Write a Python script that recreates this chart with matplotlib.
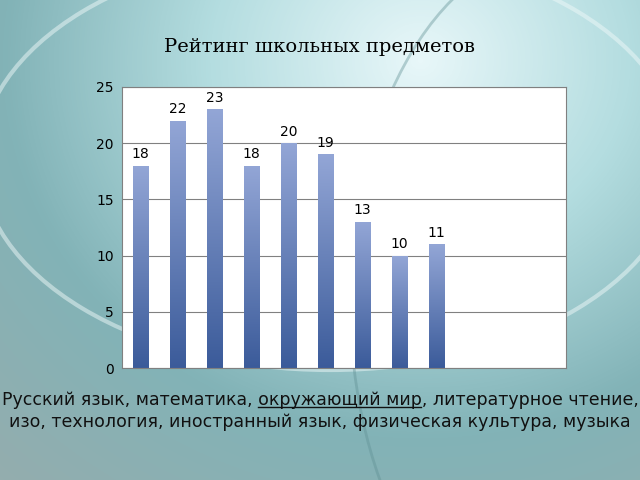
import numpy as np
import matplotlib.pyplot as plt
from matplotlib.colors import LinearSegmentedColormap
from matplotlib.patches import Ellipse

values = [18, 22, 23, 18, 20, 19, 13, 10, 11]
n_slots = 12
title = 'Рейтинг школьных предметов'
line1 = ['Русский язык, математика, ', 'окружающий мир', ', литературное чтение,']
line2 = 'изо, технология, иностранный язык, физическая культура, музыка'

fig = plt.figure(figsize=(6.4, 4.8), dpi=100)

# фон
bg = fig.add_axes([0, 0, 1, 1])
yy, xx = np.mgrid[0:480, 0:640]
d = np.sqrt(((xx - 420) / 420.0) ** 2 + ((yy - 60) / 380.0) ** 2)
cmap_bg = LinearSegmentedColormap.from_list('bg', ['#e8f7f9', '#b4dde0', '#82b3b7', '#94adae'])
bg.imshow(d, cmap=cmap_bg, aspect='auto', extent=[0, 640, 480, 0])
bg.add_patch(Ellipse((330, 160), 700, 420, fill=False, ec='#eef8f8', lw=3, alpha=0.5))
bg.add_patch(Ellipse((560, 300), 420, 700, fill=False, ec='#5f8f93', lw=2, alpha=0.4))
bg.set_xlim(0, 640); bg.set_ylim(480, 0)
bg.axis('off')

ax = fig.add_axes([122 / 640, 1 - 368 / 480, 444 / 640, 281 / 480])
ax.set_facecolor('white')
x = np.arange(len(values)) + 0.5
bars = ax.bar(x, values, width=0.42, color='none')
grad = np.linspace(0, 1, 256).reshape(-1, 1)
cmap_bar = LinearSegmentedColormap.from_list('bar', ['#3b5b9a', '#93a6d6'])
for b, v in zip(bars, values):
    im = ax.imshow(grad, cmap=cmap_bar, origin='lower', aspect='auto',
                   extent=[b.get_x(), b.get_x() + b.get_width(), 0, v], zorder=2)
    im.set_clip_path(b)
    ax.text(b.get_x() + b.get_width() / 2, v + 0.4, str(v), ha='center', va='bottom',
            fontsize=10, zorder=3)
ax.set_xlim(0, n_slots)
ax.set_ylim(0, 25)
ax.set_yticks(range(0, 26, 5))
ax.yaxis.grid(True, color='#808080', lw=0.8)
ax.set_axisbelow(True)
ax.set_xticks([])
ax.tick_params(axis='y', length=0, labelsize=10, pad=6)
for s in ax.spines.values():
    s.set_color('#808080')

fig.text(0.5, 1 - 47 / 480, title, ha='center', va='center', fontsize=14, family='DejaVu Serif')

# нижний текст, середина подчёркнута
fs = 12.5
y1 = 1 - 400 / 480
t = fig.text(0.5, y1, ''.join(line1), ha='center', va='center', fontsize=fs, color='#111111')
fig.text(0.5, 1 - 422 / 480, line2, ha='center', va='center', fontsize=fs, color='#111111')
fig.canvas.draw()
r = fig.canvas.get_renderer()
bb = t.get_window_extent(r)
tmp = fig.text(0, 0, line1[0], fontsize=fs)
w0 = tmp.get_window_extent(r).width
tmp.set_text(line1[0] + line1[1])
w1 = tmp.get_window_extent(r).width
tmp.remove()
x0 = (bb.x0 + w0) / 640
x1 = (bb.x0 + w1) / 640
yl = (bb.y0 + 2) / 480
fig.add_artist(plt.Line2D([x0, x1], [yl, yl], color='#111111', lw=1))

fig.savefig('out.png', dpi=100)
